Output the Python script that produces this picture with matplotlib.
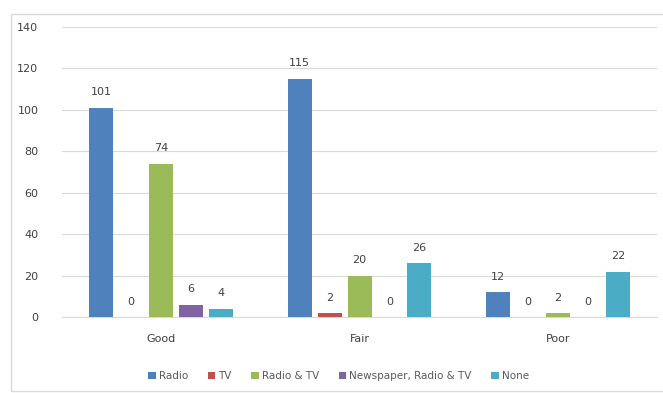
import matplotlib.pyplot as plt
import numpy as np
from matplotlib.patches import Rectangle

categories = ["Good", "Fair", "Poor"]
series = ["Radio", "TV", "Radio & TV", "Newspaper, Radio & TV", "None"]
radio = [101, 115, 12]
tv = [0, 2, 0]
radio_tv = [74, 20, 2]
news_radio_tv = [6, 0, 0]
none = [4, 26, 22]
colors = ["#4F81BD", "#C0504D", "#9BBB59", "#8064A2", "#4BACC6"]

fig = plt.figure(figsize=(6.63, 3.93), dpi=100)
ax = fig.add_axes([0.0935, 0.193, 0.8975, 0.739])
fig.patches.append(Rectangle((0.017, 0.005), 0.99, 0.96, transform=fig.transFigure,
                             fill=False, edgecolor="#d9d9d9", linewidth=1))

x = np.arange(len(categories))
width = 0.121
step = 0.151
for i, (name, vals) in enumerate(zip(series, [radio, tv, radio_tv, news_radio_tv, none])):
    pos = x + (i - 2) * step
    ax.bar(pos, vals, width, color=colors[i], label=name, zorder=3)
    for p, v in zip(pos, vals):
        ax.text(p, v + 5, str(v), ha="center", va="bottom", fontsize=8, color="#404040")

ax.set_xlim(-0.5, 2.5)
ax.set_ylim(0, 140)
ax.set_yticks(range(0, 141, 20))
ax.grid(axis="y", color="#d9d9d9", linewidth=0.8, zorder=0)
ax.set_xticks(x)
ax.set_xticklabels(categories)
ax.tick_params(axis="y", length=0, labelsize=8, labelcolor="#404040", pad=17)
ax.tick_params(axis="x", length=0, labelsize=8, labelcolor="#404040", pad=12)
for s in ["top", "right", "left"]:
    ax.spines[s].set_visible(False)
ax.spines["bottom"].set_color("#d9d9d9")

ax.legend(loc="center", bbox_to_anchor=(0.465, -0.203), ncol=5, frameon=False,
          fontsize=7.5, handlelength=0.7, handleheight=0.7, columnspacing=1.9,
          handletextpad=0.3, labelcolor="#595959")

fig.savefig("out.png", dpi=100)
